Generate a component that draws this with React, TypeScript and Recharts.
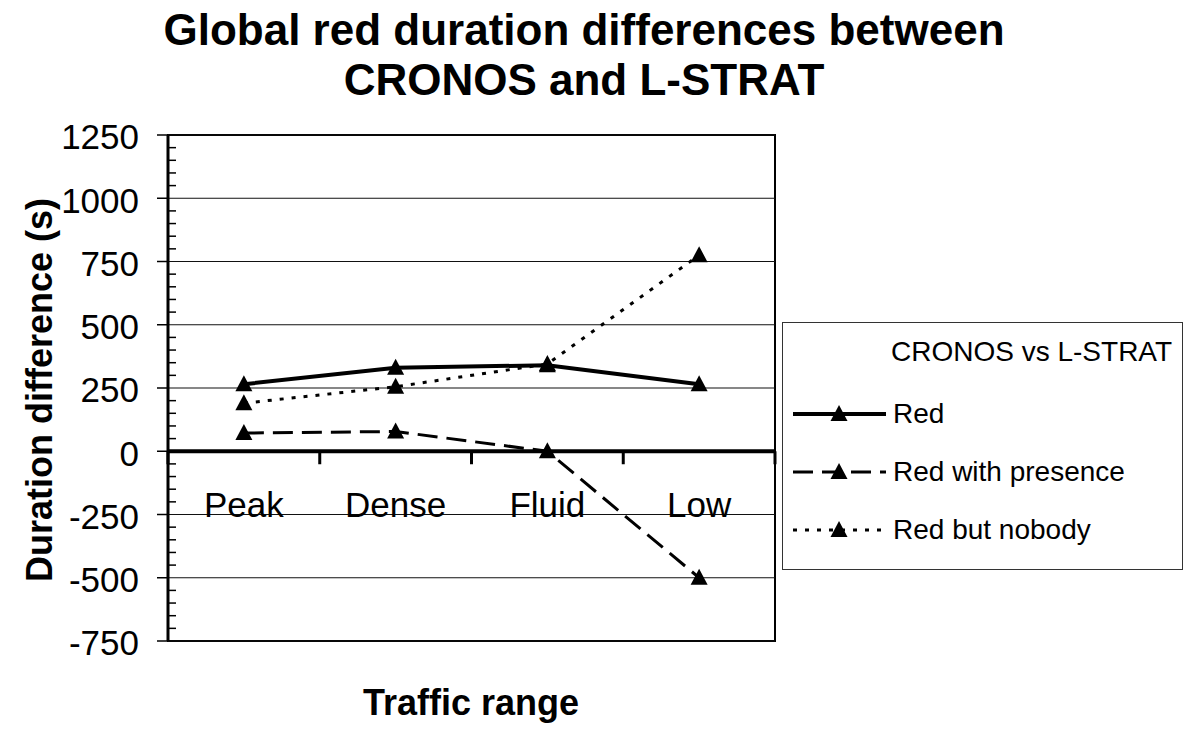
import React from 'react';
import {
  LineChart,
  Line,
  XAxis,
  YAxis,
  ReferenceLine,
  ReferenceDot,
  ReferenceArea,
} from 'recharts';

const categories = ['Peak', 'Dense', 'Fluid', 'Low'];
const redValues = [265, 330, 340, 265];
const presenceValues = [72, 78, 0, -500];
const nobodyValues = [190, 255, 345, 775];
const majorTicks = [-750, -500, -250, 0, 250, 500, 750, 1000, 1250];
const minorTicks = [-700, -650, -600, -550, -450, -400, -350, -300, -200, -150, -100, -50,
  50, 100, 150, 200, 300, 350, 400, 450, 550, 600, 650, 700, 800, 850, 900, 950, 1050, 1100, 1150, 1200];

const data = categories.map((name, i) => ({
  name,
  pos: i + 0.5,
  red: redValues[i],
  presence: presenceValues[i],
  nobody: nobodyValues[i],
}));

const series = [
  { key: 'red', name: 'Red', width: 4, dash: undefined as string | undefined },
  { key: 'presence', name: 'Red with presence', width: 3, dash: '20 9' },
  { key: 'nobody', name: 'Red but nobody', width: 3, dash: '4 8' },
];

const FONT = '"Liberation Sans", Arial, sans-serif';

const Triangle = (props: any) => {
  const { cx, cy } = props;
  if (cx == null || cy == null) return null;
  return (
    <polygon
      points={`${cx},${cy - 9} ${cx - 8.5},${cy + 7} ${cx + 8.5},${cy + 7}`}
      fill="#000"
    />
  );
};

const LegendBox = () => (
  <div
    style={{
      position: 'absolute',
      left: 782,
      top: 322,
      width: 401,
      height: 248,
      boxSizing: 'border-box',
      border: '1.5px solid #333',
      background: '#fff',
      fontFamily: FONT,
      fontSize: 28,
      color: '#000',
    }}
  >
    <div style={{ position: 'absolute', left: 108, top: 13, whiteSpace: 'nowrap' }}>
      CRONOS vs L-STRAT
    </div>
    {series.map((s, i) => (
      <div
        key={s.key}
        style={{ position: 'absolute', left: 8, top: 74 + i * 58, display: 'flex', alignItems: 'center', whiteSpace: 'nowrap' }}
      >
        <svg width={97} height={34}>
          <line x1={2} y1={17} x2={95} y2={17} stroke="#000" strokeWidth={s.width} strokeDasharray={s.dash} />
          <polygon points="48,8 39.5,24 56.5,24" fill="#000" />
        </svg>
        <span style={{ marginLeft: 5 }}>{s.name}</span>
      </div>
    ))}
  </div>
);

export default function App() {
  return (
    <div style={{ position: 'absolute', left: 0, top: 0, width: 1194, height: 729, background: '#fff' }}>
      <div
        style={{
          position: 'absolute',
          left: 0,
          width: 1168,
          top: 5,
          textAlign: 'center',
          fontFamily: FONT,
          fontWeight: 'bold',
          fontSize: 44,
          lineHeight: '50px',
        }}
      >
        Global red duration differences between
        <br />
        CRONOS and L-STRAT
      </div>
      <div
        style={{
          position: 'absolute',
          left: 40,
          top: 390,
          transform: 'translate(-50%, -50%) rotate(-90deg)',
          whiteSpace: 'nowrap',
          fontFamily: FONT,
          fontWeight: 'bold',
          fontSize: 36,
        }}
      >
        Duration difference (s)
      </div>
      <div
        style={{
          position: 'absolute',
          left: 471,
          top: 703,
          transform: 'translate(-50%, -50%)',
          whiteSpace: 'nowrap',
          fontFamily: FONT,
          fontWeight: 'bold',
          fontSize: 36,
        }}
      >
        Traffic range
      </div>
      <LineChart
        width={1194}
        height={729}
        data={data}
        margin={{ top: 135, right: 419, bottom: 88, left: 68 }}
      >
        <XAxis type="number" dataKey="pos" domain={[0, 4]} hide height={0} />
        <YAxis
          type="number"
          domain={[-750, 1250]}
          ticks={majorTicks}
          interval={0}
          width={100}
          axisLine={{ stroke: '#000', strokeWidth: 3 }}
          tickLine={{ stroke: '#000', strokeWidth: 1.5 }}
          tickSize={11}
          tickMargin={18}
          tick={{ fill: '#000', fontSize: 35, fontFamily: FONT, dy: 2 }}
        />
        {majorTicks.map((v) => (
          <ReferenceLine key={`g${v}`} y={v} stroke="#111" strokeWidth={1.2} />
        ))}
        <ReferenceArea x1={0} x2={4} y1={-750} y2={1250} fill="none" stroke="#000" strokeWidth={2} />
        {minorTicks.map((v) => (
          <ReferenceDot
            key={`m${v}`}
            x={0}
            y={v}
            shape={(p: any) => <line x1={p.cx} y1={p.cy} x2={p.cx + 8} y2={p.cy} stroke="#000" strokeWidth={1.5} />}
          />
        ))}
        <ReferenceLine y={0} stroke="#000" strokeWidth={4} />
        {[0, 1, 2, 3, 4].map((b) => (
          <ReferenceDot
            key={`b${b}`}
            x={b}
            y={0}
            shape={(p: any) => <line x1={p.cx} y1={p.cy} x2={p.cx} y2={p.cy + 13} stroke="#000" strokeWidth={3} />}
          />
        ))}
        {data.map((d) => (
          <ReferenceDot
            key={`c${d.name}`}
            x={d.pos}
            y={0}
            shape={(p: any) => (
              <text x={p.cx} y={p.cy + 66} textAnchor="middle" fontSize={35} fontFamily={FONT} fill="#000">
                {d.name}
              </text>
            )}
          />
        ))}
        {series.map((s) => (
          <Line
            key={s.key}
            type="linear"
            dataKey={s.key}
            name={s.name}
            stroke="#000"
            strokeWidth={s.width}
            strokeDasharray={s.dash}
            dot={<Triangle />}
            activeDot={false}
            isAnimationActive={false}
          />
        ))}
      </LineChart>
      <LegendBox />
    </div>
  );
}
